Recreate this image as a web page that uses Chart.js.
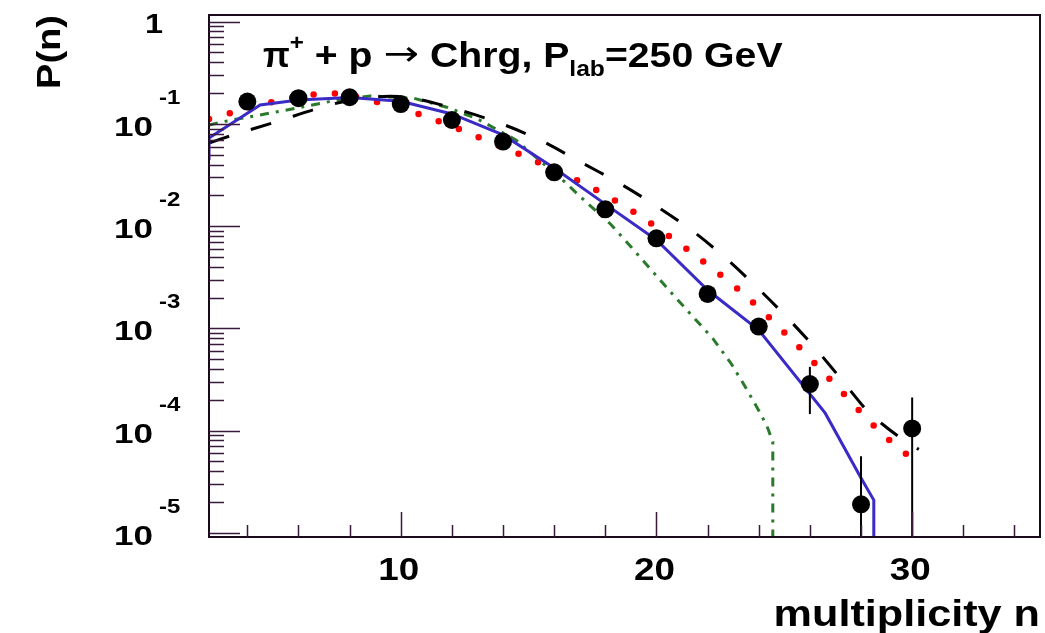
<!DOCTYPE html>
<html>
<head>
<meta charset="utf-8">
<script src="https://cdn.jsdelivr.net/npm/chart.js@4.4.1/dist/chart.umd.min.js"></script>
<style>
  html, body { margin: 0; padding: 0; background: #fff; }
  #wrap { width: 1045px; height: 633px; position: relative; }
</style>
</head>
<body>
<div id="wrap"><canvas id="multChart" width="1045" height="633"></canvas></div>
<script>
// measured multiplicity distribution (black circles)
const multN = [4, 6, 8, 10, 12, 14, 16, 18, 20, 22, 24, 26, 28, 30];
const probData = [0.165, 0.178, 0.182, 0.156, 0.109, 0.067, 0.0336, 0.0146, 0.0076, 0.00217, 0.00104, 2.85e-4, 1.9e-5, 1.05e-4];
const errLow = [null, null, null, null, null, null, null, null, null, null, null, 1.45e-4, 1e-7, 1e-7];
const errHigh = [null, null, null, null, null, null, null, null, null, null, null, 4.2e-4, 5.6e-5, 2.1e-4];

// model curves
const blueN = [2.5, 2.5, 4.5, 6, 8, 10, 12, 14, 16, 18, 20, 22, 24, 26.6, 28, 28.5, 28.5];
const blueP = [0.0443, 0.0728, 0.153, 0.171, 0.181, 0.166, 0.125, 0.0779, 0.037, 0.0164, 0.00731, 0.00237, 0.000962, 1.48e-4, 3.43e-5, 2.09e-5, 1e-7];

const redN = [2.5, 3.8, 5.5, 7.3, 9.0, 10.75, 12.4, 14.86, 16.48, 18.0, 19.48, 21.5, 23.5, 25.3, 27.0, 28.7, 30.0];
const redP = [0.1117, 0.1368, 0.1753, 0.1984, 0.1648, 0.1236, 0.0862, 0.0478, 0.0316, 0.0201, 0.012, 0.00521, 0.00207, 7.69e-4, 2.79e-4, 9.96e-5, 5.26e-5];

const blackN = [2.5, 3.45, 5.15, 6.91, 8.5, 10.23, 12.19, 13.88, 15.44, 17.0, 18.44, 19.93, 21.36, 22.67, 23.88, 25.05, 26.16, 27.23, 28.27, 28.83, 29.57, 30.26];
const blackP = [0.065, 0.0779, 0.1051, 0.1454, 0.1792, 0.1821, 0.139, 0.1014, 0.0696, 0.0427, 0.0272, 0.0161, 0.00916, 0.00495, 0.00259, 0.00132, 6.61e-4, 3.17e-4, 1.53e-4, 1.16e-4, 8.39e-5, 6.55e-5];

const greenN = [2.5, 3.4, 4.5, 5.9, 7.2, 8.8, 10.5, 11.8, 13.0, 14.5, 15.1, 16.4, 17.3, 18.2, 19.0, 19.8, 20.6, 21.4, 22.2, 22.93, 23.5, 24.1, 24.35, 24.55, 24.55];
const greenP = [0.0976, 0.1092, 0.1222, 0.1421, 0.1649, 0.1875, 0.178, 0.1454, 0.1117, 0.0696, 0.0516, 0.0272, 0.0167, 0.01048, 0.00629, 0.00372, 0.0022, 0.00132, 7.98e-4, 4.48e-4, 2.61e-4, 1.42e-4, 1.06e-4, 7.76e-5, 1e-7];

// axis ranges and tick labels
const xRange = [2.5, 35];
const yRange = [9.1e-6, 1.16];
const xMajorTicks = [10, 20, 30];
const xMinorTicks = [4, 6, 8, 12, 14, 16, 18, 22, 24, 26, 28, 32, 34];
const yDecades = [0, -1, -2, -3, -4, -5];

const FONT = '"Liberation Sans", Arial, sans-serif';

function toPoints(xs, ys) {
    return xs.map((x, i) => ({ x: x, y: ys[i] }));
}

// draw text stretched horizontally, like the original picture
function wideText(ctx, txt, x, y, sx, align) {
    ctx.save();
    ctx.translate(x, y);
    ctx.scale(sx, 1);
    ctx.textAlign = align || 'left';
    ctx.fillText(txt, 0, 0);
    ctx.restore();
}

const errorBars = {
    id: 'errorBars',
    afterDatasetsDraw(chart) {
        const ctx = chart.ctx;
        const xs = chart.scales.x, ys = chart.scales.y;
        const area = chart.chartArea;
        ctx.save();
        ctx.beginPath();
        ctx.rect(area.left, area.top, area.right - area.left, area.bottom - area.top);
        ctx.clip();
        ctx.strokeStyle = '#000';
        ctx.lineWidth = 2;
        multN.forEach((n, i) => {
            if (errLow[i] === null) return;
            const px = xs.getPixelForValue(n);
            ctx.beginPath();
            ctx.moveTo(px, ys.getPixelForValue(errHigh[i]));
            ctx.lineTo(px, ys.getPixelForValue(errLow[i]));
            ctx.stroke();
        });
        ctx.restore();
    }
};

const rootFrame = {
    id: 'rootFrame',
    afterDraw(chart) {
        const ctx = chart.ctx;
        const xs = chart.scales.x, ys = chart.scales.y;
        const a = chart.chartArea;
        ctx.save();
        ctx.strokeStyle = '#1a0a1a';
        ctx.lineWidth = 2;
        ctx.strokeRect(a.left, a.top, a.right - a.left, a.bottom - a.top);

        // y ticks, drawn inward from the left axis
        ctx.lineWidth = 1.5;
        ctx.strokeStyle = '#3a1a3a';
        for (let k = -6; k <= 0; k++) {
            for (let m = 1; m <= 9; m++) {
                const v = m * Math.pow(10, k);
                if (v < yRange[0] || v > yRange[1]) continue;
                const py = Math.round(ys.getPixelForValue(v)) + 0.5;
                ctx.beginPath();
                ctx.moveTo(a.left, py);
                ctx.lineTo(a.left + (m === 1 ? 31 : 15), py);
                ctx.stroke();
            }
        }
        // x ticks, drawn upward from the bottom axis
        xMajorTicks.concat(xMinorTicks).forEach(v => {
            const px = Math.round(xs.getPixelForValue(v)) + 0.5;
            ctx.beginPath();
            ctx.moveTo(px, a.bottom);
            ctx.lineTo(px, a.bottom - (xMajorTicks.includes(v) ? 25 : 12));
            ctx.stroke();
        });

        ctx.fillStyle = '#000';
        ctx.textBaseline = 'alphabetic';

        // y tick labels
        yDecades.forEach(d => {
            const py = ys.getPixelForValue(Math.pow(10, d));
            if (d === 0) {
                ctx.font = 'bold 27px ' + FONT;
                wideText(ctx, '1', 163, py + 11, 1.2, 'right');
            } else {
                ctx.font = 'bold 27px ' + FONT;
                wideText(ctx, '10', 153, py + 12, 1.3, 'right');
                ctx.font = 'bold 20px ' + FONT;
                wideText(ctx, '-' + Math.abs(d), 159, py - 20, 1.2, 'left');
            }
        });

        // x tick labels
        ctx.font = 'bold 32px ' + FONT;
        xMajorTicks.forEach(v => {
            wideText(ctx, String(v), xs.getPixelForValue(v) - 2, 580, 1.15, 'center');
        });

        // axis titles
        ctx.font = 'bold 36px ' + FONT;
        wideText(ctx, 'multiplicity n', 1040, 626, 1.2, 'right');

        ctx.save();
        ctx.translate(60, 15);
        ctx.rotate(-Math.PI / 2);
        ctx.font = 'bold 34px ' + FONT;
        wideText(ctx, 'P(n)', 0, 0, 1.12, 'right');
        ctx.restore();

        // plot title with super/subscripts; the arrow uses a font with a longer glyph
        const pieces = [
            ['π', 'bold 35px ' + FONT, 0, 1.0],
            ['+', 'bold 22px ' + FONT, -17, 1.1],
            [' + p ', 'bold 35px ' + FONT, 0, 1.12],
            ['\u2192', '34px "DejaVu Sans", sans-serif', -2, 1.25],
            [' Chrg, P', 'bold 35px ' + FONT, 0, 1.12],
            ['lab', 'bold 22px ' + FONT, 9, 1.12],
            ['=250 GeV', 'bold 35px ' + FONT, 0, 1.12]
        ];
        let cx = 263;
        pieces.forEach(p => {
            ctx.font = p[1];
            wideText(ctx, p[0], cx, 67 + p[2], p[3], 'left');
            cx += ctx.measureText(p[0]).width * p[3];
        });
        ctx.restore();
    }
};

document.addEventListener('DOMContentLoaded', () => {
    const ctx = document.getElementById('multChart').getContext('2d');
    new Chart(ctx, {
        type: 'scatter',
        data: {
            datasets: [
                {
                    label: 'data',
                    data: toPoints(multN, probData),
                    pointRadius: 9,
                    pointHoverRadius: 9,
                    pointBackgroundColor: '#000',
                    pointBorderWidth: 0,
                    showLine: false
                },
                {
                    label: 'blue',
                    data: toPoints(blueN, blueP),
                    showLine: true,
                    borderColor: '#3b2bc6',
                    borderWidth: 3,
                    pointRadius: 0,
                    clip: 0
                },
                {
                    label: 'red',
                    data: toPoints(redN, redP),
                    showLine: true,
                    borderColor: '#ff0000',
                    borderWidth: 6.5,
                    borderDash: [0, 21.5],
                    borderCapStyle: 'round',
                    tension: 0.3,
                    pointRadius: 0,
                    clip: 0
                },
                {
                    label: 'black',
                    data: toPoints(blackN, blackP),
                    showLine: true,
                    borderColor: '#000',
                    borderWidth: 3,
                    borderDash: [21, 23],
                    tension: 0.3,
                    pointRadius: 0,
                    clip: 0
                },
                {
                    label: 'green',
                    data: toPoints(greenN, greenP),
                    showLine: true,
                    borderColor: '#2b7a2b',
                    borderWidth: 3,
                    borderDash: [9, 7, 3, 7],
                    pointRadius: 0,
                    clip: 0
                }
            ]
        },
        options: {
            responsive: false,
            animation: false,
            devicePixelRatio: 1,
            layout: { autoPadding: false, padding: { left: 209, top: 15, right: 5, bottom: 96 } },
            plugins: {
                legend: { display: false },
                tooltip: { enabled: false }
            },
            scales: {
                x: {
                    type: 'linear',
                    min: xRange[0],
                    max: xRange[1],
                    bounds: 'data',
                    display: false
                },
                y: {
                    type: 'logarithmic',
                    min: yRange[0],
                    max: yRange[1],
                    bounds: 'data',
                    display: false
                }
            }
        },
        plugins: [errorBars, rootFrame]
    });
});
</script>
</body>
</html>
